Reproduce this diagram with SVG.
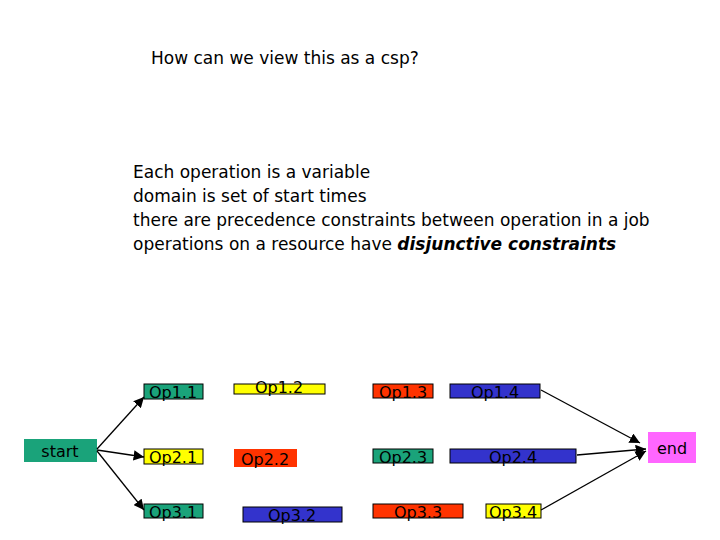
<svg xmlns="http://www.w3.org/2000/svg" width="720" height="540" viewBox="0 0 720 540">
<style>
text{font-family:"DejaVu Sans","Liberation Sans",sans-serif;fill:#000}
.t{font-size:17px}
.n{font-size:16px;text-anchor:middle}
.b{stroke:#000;stroke-width:1}
.g{fill:#1aa37a}.y{fill:#ffff00}.r{fill:#ff3300}.u{fill:#3333cc}.m{fill:#ff66ff}
.c{stroke:#000;stroke-width:1.3;fill:none;marker-end:url(#a)}
</style>
<defs><marker id="a" viewBox="0 0 10 10" refX="10" refY="5" markerWidth="8" markerHeight="8" orient="auto"><path d="M0,0L10,5L0,10z" fill="#000"/></marker></defs>
<rect width="720" height="540" fill="#fff"/>
<text class="t" x="151" y="64">How can we view this as a csp?</text>
<text class="t" x="133" y="178">Each operation is a variable</text>
<text class="t" x="133" y="202">domain is set of start times</text>
<text class="t" x="133" y="226">there are precedence constraints between operation in a job</text>
<text class="t" x="133" y="250">operations on a resource have <tspan font-weight="bold" font-style="italic">disjunctive constraints</tspan></text>
<g id="start"><rect class="g" x="24" y="439" width="73" height="23"/><text class="n" x="60" y="457">start</text></g>
<g id="op11"><rect class="g b" x="144" y="384" width="59" height="15"/><text class="n" x="173" y="398">Op1.1</text></g>
<g id="op12"><rect class="y b" x="234" y="384" width="91" height="10"/><text class="n" x="279" y="393">Op1.2</text></g>
<g id="op13"><rect class="r b" x="373" y="384" width="60" height="14"/><text class="n" x="403" y="398">Op1.3</text></g>
<g id="op14"><rect class="u b" x="450" y="384" width="90" height="14"/><text class="n" x="495" y="398">Op1.4</text></g>
<g id="op21"><rect class="y b" x="144" y="449" width="59" height="15"/><text class="n" x="173" y="463">Op2.1</text></g>
<g id="op22"><rect class="r" x="234" y="449" width="63" height="18"/><text class="n" x="265" y="465">Op2.2</text></g>
<g id="op23"><rect class="g b" x="373" y="449" width="60" height="14"/><text class="n" x="403" y="463">Op2.3</text></g>
<g id="op24"><rect class="u b" x="450" y="449" width="126" height="14"/><text class="n" x="513" y="463">Op2.4</text></g>
<g id="op31"><rect class="g b" x="144" y="504" width="59" height="14"/><text class="n" x="173" y="518">Op3.1</text></g>
<g id="op32"><rect class="u b" x="243" y="507" width="99" height="15"/><text class="n" x="292" y="521">Op3.2</text></g>
<g id="op33"><rect class="r b" x="373" y="504" width="90" height="14"/><text class="n" x="418" y="518">Op3.3</text></g>
<g id="op34"><rect class="y b" x="486" y="504" width="55" height="14"/><text class="n" x="513" y="518">Op3.4</text></g>
<g id="end"><rect class="m" x="648" y="432" width="48" height="31"/><text class="n" x="672" y="454">end</text></g>
<g id="connectors">
<path class="c" d="M97,449L144,397"/>
<path class="c" d="M97,450L144,457"/>
<path class="c" d="M97,451L144,510"/>
<path class="c" d="M541,390L640,443"/>
<path class="c" d="M577,455L646,449"/>
<path class="c" d="M541,510L646,451"/>
</g>
</svg>
